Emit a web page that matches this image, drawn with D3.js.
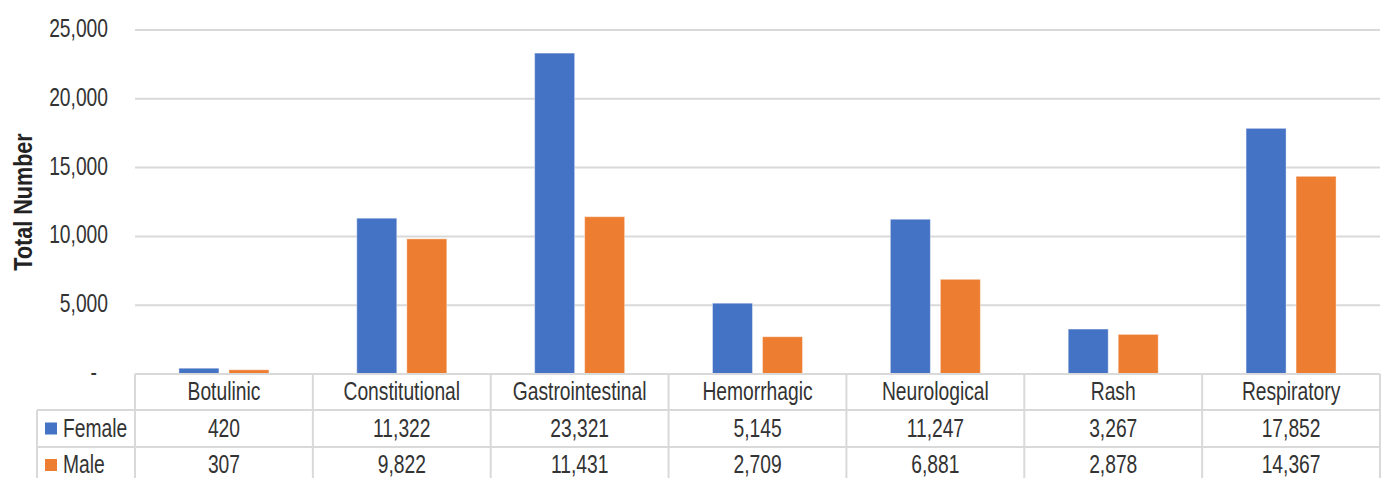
<!DOCTYPE html>
<html lang="en">
  <head>
    <meta charset="UTF-8" />
    <title>Symptoms by sex</title>
    <script src="https://d3js.org/d3.v7.min.js"></script>
    <style>
      body {
        margin: 0;
        background: #fff;
      }
      text {
        font-family: "Liberation Sans Narrow", "Arial Narrow", "Liberation Sans", sans-serif;
        fill: #333;
        font-size: 25px;
      }
      .grid line {
        stroke: #d9d9d9;
        stroke-width: 2;
      }
      .table line {
        stroke: #d9d9d9;
        stroke-width: 2;
      }
    </style>
  </head>

  <body>
    <svg width="1382" height="478"></svg>
    <script>
      const categories = ["Botulinic", "Constitutional", "Gastrointestinal", "Hemorrhagic", "Neurological", "Rash", "Respiratory"];
      const female = [420, 11322, 23321, 5145, 11247, 3267, 17852];
      const male = [307, 9822, 11431, 2709, 6881, 2878, 14367];
      const seriesNames = ["Female", "Male"];
      const colors = ["#4472c4", "#ed7d31"];
      const yTicks = [0, 5000, 10000, 15000, 20000, 25000];

      const svg = d3.select("svg");
      const plotLeft = 135, plotRight = 1380, plotTop = 30, plotBottom = 374;
      const rowY = [374, 410, 447, 484];
      const tableLeft = 37;
      const narrow = 0.77; // no narrow font installed, so squeeze the sans

      const x = d3.scaleBand().domain(categories).range([plotLeft, plotRight]);
      const bw = x.bandwidth();
      const xs = d3.scaleBand().domain(seriesNames)
        .range([bw / 2 - 45, bw / 2 + 45]).paddingInner(0.2);
      const y = d3.scaleLinear().domain([0, 25000]).range([plotBottom, plotTop]);
      const fmt = d3.format(",");

      function place(sel, fx, fy) {
        return sel.attr("transform", (d, i) =>
          "translate(" + fx(d, i) + "," + fy(d, i) + ") scale(" + narrow + ",1)");
      }

      // gridlines
      svg.append("g").attr("class", "grid")
        .selectAll("line")
        .data(yTicks.filter(d => d > 0))
        .enter().append("line")
        .attr("x1", plotLeft).attr("x2", plotRight)
        .attr("y1", d => y(d)).attr("y2", d => y(d));

      // y tick labels
      svg.append("g").selectAll("text")
        .data(yTicks)
        .enter().append("text")
        .call(place, d => d === 0 ? 97 : 108, d => y(d) + 7)
        .attr("text-anchor", "end")
        .text(d => d === 0 ? "-" : fmt(d));

      svg.append("text")
        .attr("transform", "translate(32," + (plotTop + plotBottom) / 2 + ") rotate(-90) scale(0.83,1)")
        .attr("text-anchor", "middle")
        .style("font-size", "26px")
        .style("font-weight", "bold")
        .style("fill", "#222")
        .text("Total Number");

      // bars
      const rows = [female, male];
      const groups = svg.append("g").selectAll("g")
        .data(categories)
        .enter().append("g")
        .attr("transform", d => "translate(" + x(d) + ",0)");

      groups.selectAll("rect")
        .data((d, i) => seriesNames.map((s, j) => ({ s: s, v: rows[j][i], c: colors[j] })))
        .enter().append("rect")
        .attr("x", d => xs(d.s))
        .attr("width", xs.bandwidth())
        .attr("y", d => y(d.v))
        .attr("height", d => y(0) - y(d.v))
        .attr("fill", d => d.c)
        .attr("stroke", "#ffffff")
        .attr("stroke-opacity", 0.4)
        .attr("stroke-width", 1);

      // data table
      const table = svg.append("g").attr("class", "table");
      table.append("line").attr("x1", plotLeft).attr("x2", plotRight).attr("y1", rowY[0]).attr("y2", rowY[0]);
      rowY.slice(1).forEach(function (ry) {
        table.append("line").attr("x1", tableLeft).attr("x2", plotRight).attr("y1", ry).attr("y2", ry);
      });
      table.append("line").attr("x1", tableLeft).attr("x2", tableLeft).attr("y1", rowY[1]).attr("y2", rowY[3]);
      categories.concat([null]).forEach(function (c, i) {
        const xx = i < categories.length ? x(c) : plotRight;
        table.append("line").attr("x1", xx).attr("x2", xx).attr("y1", rowY[0]).attr("y2", rowY[3]);
      });

      svg.append("g").selectAll("text")
        .data(categories)
        .enter().append("text")
        .call(place, d => x(d) + bw / 2, () => 400)
        .attr("text-anchor", "middle")
        .text(d => d);

      const baseY = [436.5, 473];
      seriesNames.forEach(function (s, j) {
        svg.append("rect")
          .attr("x", 45).attr("y", baseY[j] - 14)
          .attr("width", 12).attr("height", 12)
          .attr("fill", colors[j]);
        svg.append("text")
          .datum(s)
          .call(place, () => 63, () => baseY[j])
          .text(s);
        svg.append("g").selectAll("text")
          .data(rows[j])
          .enter().append("text")
          .call(place, (d, i) => x(categories[i]) + bw / 2, () => baseY[j])
          .attr("text-anchor", "middle")
          .text(d => fmt(d));
      });
    </script>
  </body>
</html>
